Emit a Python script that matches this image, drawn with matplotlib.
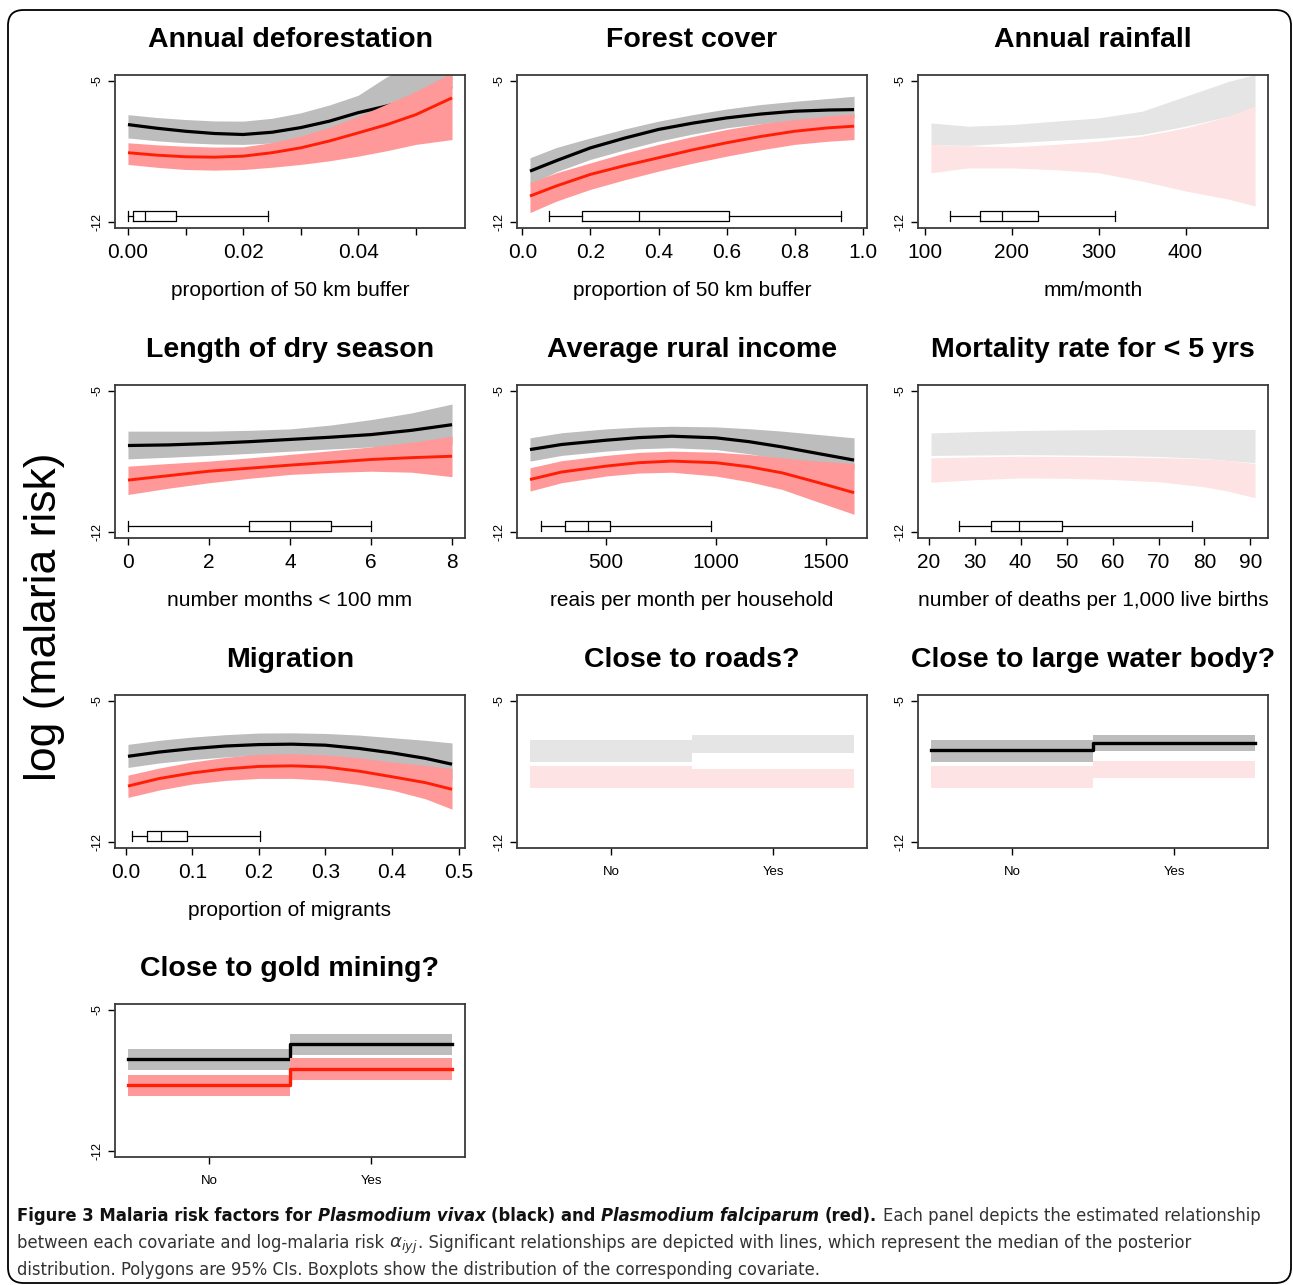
import numpy as np
import matplotlib
matplotlib.use('Agg')
import matplotlib.pyplot as plt
from matplotlib import font_manager
from matplotlib.patches import FancyBboxPatch

W, H = 1293, 1285
plt.rcParams['font.family'] = ['Liberation Sans', 'DejaVu Sans']

# ── Data ─────────────────────────────────────────────────────────────────────
# Annual deforestation
defor_x       = [0.0, 0.005, 0.01, 0.015, 0.02, 0.025, 0.03, 0.035, 0.04, 0.045, 0.05, 0.0563]
defor_viv_mid = [-7.17, -7.35, -7.50, -7.61, -7.66, -7.55, -7.32, -7.00, -6.58, -6.25, -5.90, -5.30]
defor_viv_lo  = [-7.83, -7.97, -8.07, -8.13, -8.15, -8.08, -7.91, -7.60, -7.17, -6.60, -5.95, -5.30]
defor_viv_hi  = [-6.68, -6.82, -6.92, -6.99, -7.00, -6.86, -6.59, -6.20, -5.72, -4.80, -4.20, -3.60]
defor_red_mid = [-8.56, -8.68, -8.76, -8.78, -8.73, -8.56, -8.32, -7.98, -7.58, -7.17, -6.68, -5.85]
defor_red_lo  = [-9.14, -9.28, -9.39, -9.42, -9.39, -9.28, -9.14, -8.96, -8.73, -8.46, -8.15, -7.91]
defor_red_hi  = [-8.07, -8.17, -8.24, -8.28, -8.27, -8.06, -7.74, -7.30, -6.76, -6.15, -5.53, -4.60]
defor_box     = [0.0, 0.0009, 0.003, 0.0083, 0.0244]

# Forest cover
forest_x       = [0.022, 0.1, 0.2, 0.3, 0.4, 0.5, 0.6, 0.7, 0.8, 0.9, 0.975]
forest_viv_mid = [-9.47, -8.95, -8.32, -7.84, -7.41, -7.10, -6.84, -6.65, -6.51, -6.45, -6.43]
forest_viv_lo  = [-10.13, -9.50, -8.89, -8.42, -7.99, -7.64, -7.33, -7.13, -7.00, -6.90, -6.84]
forest_viv_hi  = [-8.81, -8.30, -7.83, -7.39, -7.00, -6.68, -6.40, -6.18, -6.02, -5.88, -5.77]
forest_red_mid = [-10.70, -10.20, -9.63, -9.20, -8.81, -8.42, -8.07, -7.76, -7.50, -7.33, -7.25]
forest_red_lo  = [-11.52, -10.95, -10.37, -9.90, -9.47, -9.08, -8.73, -8.42, -8.15, -7.99, -7.91]
forest_red_hi  = [-10.04, -9.55, -9.06, -8.58, -8.15, -7.76, -7.41, -7.13, -6.92, -6.74, -6.63]
forest_box     = [0.078, 0.174, 0.343, 0.608, 0.938]

# Annual rainfall (not significant)
rain_x      = [107, 150, 200, 250, 300, 350, 400, 450, 480]
rain_viv_lo = [-8.15, -8.20, -8.07, -7.95, -7.83, -7.66, -7.25, -6.76, -6.27]
rain_viv_hi = [-7.09, -7.25, -7.17, -7.00, -6.84, -6.51, -5.77, -5.03, -4.70]
rain_red_lo = [-9.55, -9.31, -9.31, -9.40, -9.55, -9.96, -10.45, -10.86, -11.19]
rain_red_hi = [-8.15, -8.22, -8.27, -8.15, -7.99, -7.74, -7.33, -6.76, -6.24]
rain_box    = [129, 163, 188.5, 230, 319]

# Length of dry season
dry_x       = [0, 1, 2, 3, 4, 5, 6, 7, 8]
dry_viv_mid = [-7.71, -7.68, -7.61, -7.52, -7.41, -7.30, -7.17, -6.96, -6.68]
dry_viv_lo  = [-8.37, -8.29, -8.20, -8.10, -7.99, -7.88, -7.78, -7.70, -7.66]
dry_viv_hi  = [-7.00, -7.00, -7.00, -6.96, -6.89, -6.70, -6.43, -6.10, -5.66]
dry_red_mid = [-9.42, -9.20, -8.98, -8.83, -8.68, -8.54, -8.40, -8.31, -8.24]
dry_red_lo  = [-10.13, -9.82, -9.55, -9.33, -9.14, -9.04, -8.98, -9.03, -9.25]
dry_red_hi  = [-8.73, -8.60, -8.48, -8.32, -8.15, -7.97, -7.78, -7.55, -7.25]
dry_box     = [0, 3, 4, 5, 6]

# Average rural income
inc_x       = [157, 300, 500, 650, 800, 1000, 1150, 1300, 1450, 1626]
inc_viv_mid = [-7.91, -7.66, -7.45, -7.32, -7.25, -7.33, -7.52, -7.78, -8.08, -8.43]
inc_viv_lo  = [-8.48, -8.20, -7.99, -7.87, -7.82, -7.91, -8.12, -8.40, -8.62, -8.89]
inc_viv_hi  = [-7.33, -7.08, -6.89, -6.80, -6.76, -6.79, -6.88, -7.00, -7.15, -7.33]
inc_red_mid = [-9.39, -9.02, -8.73, -8.56, -8.48, -8.56, -8.76, -9.06, -9.50, -10.04]
inc_red_lo  = [-9.96, -9.55, -9.22, -9.07, -9.03, -9.22, -9.50, -9.88, -10.45, -11.11]
inc_red_hi  = [-8.81, -8.46, -8.20, -8.05, -7.99, -8.04, -8.15, -8.32, -8.47, -8.60]
inc_box     = [209, 316, 419, 522, 978]

# Mortality rate for < 5 yrs (not significant)
mort_x      = [20.5, 30, 40, 50, 60, 70, 80, 85, 91]
mort_viv_lo = [-8.20, -8.18, -8.16, -8.18, -8.20, -8.25, -8.35, -8.45, -8.56]
mort_viv_hi = [-7.09, -7.02, -6.97, -6.94, -6.92, -6.92, -6.92, -6.92, -6.92]
mort_red_lo = [-9.52, -9.40, -9.31, -9.33, -9.39, -9.50, -9.75, -9.96, -10.29]
mort_red_hi = [-8.32, -8.27, -8.24, -8.25, -8.27, -8.30, -8.37, -8.45, -8.60]
mort_box    = [26.6, 33.5, 39.7, 49.0, 77.2]

# Migration
mig_x       = [0.0035, 0.05, 0.1, 0.15, 0.2, 0.25, 0.3, 0.35, 0.4, 0.45, 0.49]
mig_viv_mid = [-7.75, -7.54, -7.37, -7.24, -7.17, -7.15, -7.20, -7.36, -7.58, -7.85, -8.14]
mig_viv_lo  = [-8.30, -8.08, -7.91, -7.78, -7.70, -7.70, -7.78, -7.98, -8.27, -8.60, -8.93]
mig_viv_hi  = [-7.16, -6.96, -6.80, -6.68, -6.60, -6.59, -6.62, -6.70, -6.83, -6.96, -7.09]
mig_red_mid = [-9.22, -8.85, -8.57, -8.37, -8.25, -8.22, -8.28, -8.48, -8.76, -9.05, -9.38]
mig_red_lo  = [-9.78, -9.42, -9.12, -8.94, -8.84, -8.84, -8.93, -9.14, -9.42, -9.85, -10.36]
mig_red_hi  = [-8.68, -8.33, -8.03, -7.80, -7.65, -7.62, -7.68, -7.82, -8.03, -8.20, -8.35]
mig_box     = [0.0095, 0.032, 0.0526, 0.0916, 0.201]

# Binary covariates
cat_labels = ['No', 'Yes']
cat_pos    = [1, 2]
cat_edges  = [0.5, 1.5, 2.5]

roads_viv_lo = [-8.03, -7.58]
roads_viv_hi = [-6.96, -6.68]
roads_red_lo = [-9.30, -9.30]
roads_red_hi = [-8.24, -8.40]

water_viv_mid = [-7.45, -7.08]
water_viv_lo  = [-8.03, -7.49]
water_viv_hi  = [-6.96, -6.72]
water_red_lo  = [-9.30, -8.84]
water_red_hi  = [-8.24, -7.99]

gold_viv_mid = [-7.46, -6.72]
gold_viv_lo  = [-8.00, -7.26]
gold_viv_hi  = [-6.93, -6.20]
gold_red_mid = [-8.74, -7.95]
gold_red_lo  = [-9.26, -8.48]
gold_red_hi  = [-8.23, -7.38]

# ── Styling ──────────────────────────────────────────────────────────────────
GRAY, GRAY_NS = '#bdbdbd', '#e5e5e5'
PINK, PINK_NS = '#ff9999', '#fde3e3'
RED = '#ff1e05'
BOX_W, BOX_H = 350, 153
ROW_TOP = [75, 385, 695, 1004]
COL_LEFT = [115, 517, 918]
BOX_Y = -11.7

fig = plt.figure(figsize=(W / 100, H / 100), dpi=100)


def panel(row, col, title):
    x0, y0 = COL_LEFT[col], ROW_TOP[row]
    ax = fig.add_axes([x0 / W, 1 - (y0 + BOX_H) / H, BOX_W / W, BOX_H / H])
    ax.set_ylim(-12.28, -4.72)
    ax.set_yticks([-12, -5])
    ax.set_yticklabels(['-12', '-5'], rotation=90, va='center')
    ax.tick_params(axis='y', length=5, width=1, pad=3, labelsize=9)
    for s in ax.spines.values():
        s.set_color('#3a3a3a')
        s.set_linewidth(1.3)
        s.set_zorder(10)
    ax.set_title(title, fontsize=20.5, fontweight='bold', pad=20)
    return ax


def cont_axis(ax, x, ticks, labels, xlabel):
    span = max(x) - min(x)
    ax.set_xlim(min(x) - 0.04 * span, max(x) + 0.04 * span)
    ax.set_xticks(ticks)
    ax.set_xticklabels(labels)
    ax.tick_params(axis='x', length=5, width=1, pad=6, labelsize=15)
    ax.text(0.5, -62 / BOX_H, xlabel, transform=ax.transAxes, ha='center',
            va='center', fontsize=15)


def cat_axis(ax):
    span = cat_edges[-1] - cat_edges[0]
    ax.set_xlim(cat_edges[0] - 0.04 * span, cat_edges[-1] + 0.04 * span)
    ax.set_xticks(cat_pos)
    ax.set_xticklabels(cat_labels)
    ax.tick_params(axis='x', length=5, width=1, pad=8, labelsize=9.5)


# draw order as in the original: gray band, black line, pink band, red line
def curves(ax, x, viv_lo, viv_hi, red_lo, red_hi, viv_mid=None, red_mid=None):
    ax.fill_between(x, viv_lo, viv_hi, color=GRAY if viv_mid else GRAY_NS, lw=0, zorder=1)
    if viv_mid:
        ax.plot(x, viv_mid, color='black', lw=2.3, solid_capstyle='butt', zorder=2)
    ax.fill_between(x, red_lo, red_hi, color=PINK if red_mid else PINK_NS, lw=0, zorder=3)
    if red_mid:
        ax.plot(x, red_mid, color=RED, lw=2.1, solid_capstyle='butt', zorder=4)


def steps(ax, viv_lo, viv_hi, red_lo, red_hi, viv_mid=None, red_mid=None):
    ext = lambda v: list(v) + [v[-1]]
    ax.fill_between(cat_edges, ext(viv_lo), ext(viv_hi), step='post',
                    color=GRAY if viv_mid else GRAY_NS, lw=0, zorder=1)
    if viv_mid:
        ax.step(cat_edges, ext(viv_mid), where='post', color='black', lw=2.4, zorder=2)
    ax.fill_between(cat_edges, ext(red_lo), ext(red_hi), step='post',
                    color=PINK if red_mid else PINK_NS, lw=0, zorder=3)
    if red_mid:
        ax.step(cat_edges, ext(red_mid), where='post', color=RED, lw=2.4, zorder=4)


def boxplot(ax, stats):
    lo, q1, med, q3, hi = stats
    lp = dict(color='black', lw=0.9)
    ax.bxp([dict(whislo=lo, q1=q1, med=med, q3=q3, whishi=hi, fliers=[])],
           positions=[BOX_Y], widths=0.5, capwidths=0.5, orientation='horizontal',
           showfliers=False, manage_ticks=False, boxprops=lp, whiskerprops=lp,
           capprops=lp, medianprops=lp, zorder=5)


# Row 1
ax = panel(0, 0, 'Annual deforestation')
curves(ax, defor_x, defor_viv_lo, defor_viv_hi, defor_red_lo, defor_red_hi,
       defor_viv_mid, defor_red_mid)
boxplot(ax, defor_box)
cont_axis(ax, defor_x, [0, 0.01, 0.02, 0.03, 0.04, 0.05],
          ['0.00', '', '0.02', '', '0.04', ''], 'proportion of 50 km buffer')

ax = panel(0, 1, 'Forest cover')
curves(ax, forest_x, forest_viv_lo, forest_viv_hi, forest_red_lo, forest_red_hi,
       forest_viv_mid, forest_red_mid)
boxplot(ax, forest_box)
cont_axis(ax, forest_x, [0, 0.2, 0.4, 0.6, 0.8, 1.0],
          ['0.0', '0.2', '0.4', '0.6', '0.8', '1.0'], 'proportion of 50 km buffer')

ax = panel(0, 2, 'Annual rainfall')
curves(ax, rain_x, rain_viv_lo, rain_viv_hi, rain_red_lo, rain_red_hi)
boxplot(ax, rain_box)
cont_axis(ax, rain_x, [100, 200, 300, 400], ['100', '200', '300', '400'], 'mm/month')

# Row 2
ax = panel(1, 0, 'Length of dry season')
curves(ax, dry_x, dry_viv_lo, dry_viv_hi, dry_red_lo, dry_red_hi,
       dry_viv_mid, dry_red_mid)
boxplot(ax, dry_box)
cont_axis(ax, dry_x, [0, 2, 4, 6, 8], ['0', '2', '4', '6', '8'],
          'number months < 100 mm')

ax = panel(1, 1, 'Average rural income')
curves(ax, inc_x, inc_viv_lo, inc_viv_hi, inc_red_lo, inc_red_hi,
       inc_viv_mid, inc_red_mid)
boxplot(ax, inc_box)
cont_axis(ax, inc_x, [500, 1000, 1500], ['500', '1000', '1500'],
          'reais per month per household')

ax = panel(1, 2, 'Mortality rate for < 5 yrs')
curves(ax, mort_x, mort_viv_lo, mort_viv_hi, mort_red_lo, mort_red_hi)
boxplot(ax, mort_box)
cont_axis(ax, mort_x, list(range(20, 100, 10)), [str(v) for v in range(20, 100, 10)],
          'number of deaths per 1,000 live births')

# Row 3
ax = panel(2, 0, 'Migration')
curves(ax, mig_x, mig_viv_lo, mig_viv_hi, mig_red_lo, mig_red_hi,
       mig_viv_mid, mig_red_mid)
boxplot(ax, mig_box)
cont_axis(ax, mig_x, [0, 0.1, 0.2, 0.3, 0.4, 0.5],
          ['0.0', '0.1', '0.2', '0.3', '0.4', '0.5'], 'proportion of migrants')

ax = panel(2, 1, 'Close to roads?')
steps(ax, roads_viv_lo, roads_viv_hi, roads_red_lo, roads_red_hi)
cat_axis(ax)

ax = panel(2, 2, 'Close to large water body?')
steps(ax, water_viv_lo, water_viv_hi, water_red_lo, water_red_hi, water_viv_mid)
cat_axis(ax)

# Row 4
ax = panel(3, 0, 'Close to gold mining?')
steps(ax, gold_viv_lo, gold_viv_hi, gold_red_lo, gold_red_hi,
      gold_viv_mid, gold_red_mid)
cat_axis(ax)

fig.text(45 / W, 1 - 617 / H, 'log (malaria risk)', rotation=90, ha='center',
         va='center', fontsize=32)

# ── Outer frame ──────────────────────────────────────────────────────────────
fig.patches.append(FancyBboxPatch((8 / W, 2 / H), 1283 / W, 1273 / H,
                                  boxstyle='round,pad=0,rounding_size=0.012',
                                  transform=fig.transFigure, fill=False,
                                  ec='black', lw=1.3))

# ── Caption ──────────────────────────────────────────────────────────────────
# the journal uses a condensed face; take the narrowest installed one
entries = font_manager.fontManager.ttflist
names = {f.name for f in entries}
cap_stretch = 'normal'
if 'Liberation Sans Narrow' in names:
    cap_font = 'Liberation Sans Narrow'
elif any(f.name == 'DejaVu Sans' and str(f.stretch) in ('condensed', 'semi-condensed')
         for f in entries):
    cap_font, cap_stretch = 'DejaVu Sans', 'condensed'
else:
    cap_font = 'Roboto'
plt.rcParams['mathtext.fontset'] = 'custom'
plt.rcParams['mathtext.it'] = cap_font + ':italic'
renderer = fig.canvas.get_renderer()

caption = [
    [("Figure 3 Malaria risk factors for", 'bold', 'normal', True),
     ("Plasmodium vivax", 'bold', 'italic', True),
     ("(black) and", 'bold', 'normal', True),
     ("Plasmodium falciparum", 'bold', 'italic', True),
     ("(red).", 'bold', 'normal', True),
     ("Each panel depicts the estimated relationship", 'normal', 'normal', False)],
    [("between each covariate and log-malaria risk", 'normal', 'normal', True),
     (r"$\alpha_{iyj}$", 'normal', 'normal', False),
     (". Significant relationships are depicted with lines, which represent the median of the posterior",
      'normal', 'normal', False)],
    [("distribution. Polygons are 95% CIs. Boxplots show the distribution of the corresponding covariate.",
      'normal', 'normal', False)],
]


def cap_text(x, y, txt, size, weight='normal', style='normal', **kw):
    return fig.text(x, y, txt, fontsize=size, fontweight=weight, fontstyle=style,
                    family=cap_font, fontstretch=cap_stretch, **kw)


def measure(txt, size, weight='normal', style='normal'):
    t = cap_text(0, 0, txt, size, weight, style)
    w = t.get_window_extent(renderer).width
    t.remove()
    return w


def space(size, weight):
    return measure('a a', size, weight) - measure('aa', size, weight)


# size the caption so its first line spans the frame width
base = 14
line1 = sum(measure(p[0], base, p[1], p[2]) for p in caption[0]) + 5 * space(base, 'bold')
cap_size = base * 1250 / line1

for i, line in enumerate(caption):
    x = 17.0
    yb = 1221 + 27 * i
    for txt, weight, style, gap in line:
        col = '#111111' if weight == 'bold' else '#333333'
        t = cap_text(x / W, 1 - yb / H, txt, cap_size, weight, style,
                     va='baseline', ha='left', color=col)
        x += t.get_window_extent(renderer).width
        if gap:
            x += space(cap_size, weight)

fig.savefig('out.png', dpi=100)
